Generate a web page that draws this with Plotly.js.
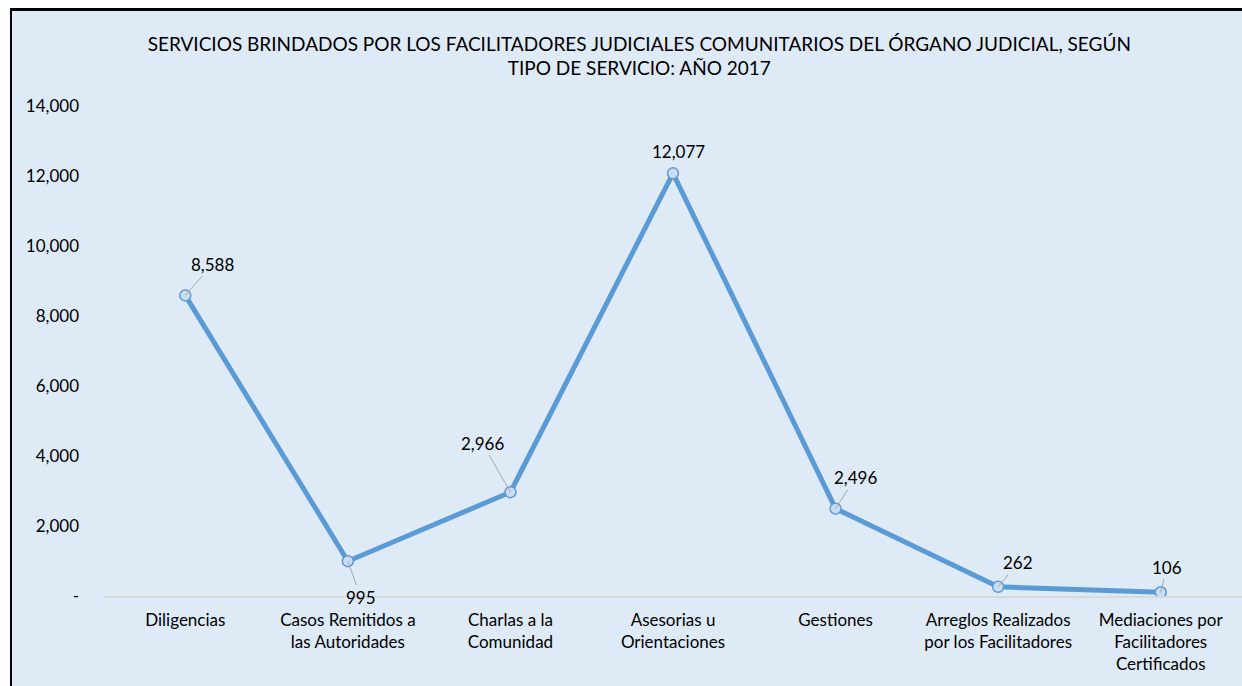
<!DOCTYPE html>
<html>
<head>
<meta charset="utf-8">
<script src="https://cdn.plot.ly/plotly-3.0.1.min.js"></script>
<style>
  html, body { margin: 0; padding: 0; background: #ffffff; width: 1242px; height: 686px; overflow: hidden; }
  #frame { position: absolute; left: 10px; top: 8px; width: 1240px; height: 690px; box-sizing: border-box;
           border-left: 2px solid #000; border-top: 3px solid #000; background: #DEEAF6; }
  #chart { position: absolute; left: 12px; top: 10px; width: 1230px; height: 676px; }
</style>
</head>
<body>
<div id="frame"></div>
<div id="chart"></div>
<script>
// ---- data ----
const categories = [
  "Diligencias",
  "Casos Remitidos a<br>las Autoridades",
  "Charlas a la<br>Comunidad",
  "Asesorias u<br>Orientaciones",
  "Gestiones",
  "Arreglos Realizados<br>por los Facilitadores",
  "Mediaciones por<br>Facilitadores<br>Certificados"
];
const values = [8588, 995, 2966, 12077, 2496, 262, 106];
const yTickValues = [0, 2000, 4000, 6000, 8000, 10000, 12000, 14000];
const yTickLabels = ["-", "2,000", "4,000", "6,000", "8,000", "10,000", "12,000", "14,000"];
const titleText = "SERVICIOS BRINDADOS POR LOS FACILITADORES JUDICIALES COMUNITARIOS DEL ÓRGANO JUDICIAL, SEGÚN<br>TIPO DE SERVICIO: AÑO 2017";

// label placement (pixel offsets from the point) — styling only
const labelOffsets = [[27,-31],[13,36],[-28,-49],[5,-22],[20,-31],[20,-24],[6,-25]];
const labelLeader  = [true, true, true, false, true, true, true];

const FONT = "Lato, 'Open Sans', sans-serif";

const fmt = v => v.toLocaleString("en-US");

const annotations = values.map((v, i) => {
  const [dx, dy] = labelOffsets[i];
  if (labelLeader[i]) {
    return {
      x: categories[i], y: v, xref: "x", yref: "y",
      text: fmt(v), showarrow: true, arrowhead: 0, arrowwidth: 1, arrowcolor: "#A6A6A6",
      ax: dx, ay: dy, axref: "pixel", ayref: "pixel", standoff: 0,
      font: { family: FONT, size: 17, color: "#000" }
    };
  }
  return {
    x: categories[i], y: v, xref: "x", yref: "y",
    text: fmt(v), showarrow: false, xshift: dx, yshift: -dy,
    font: { family: FONT, size: 17, color: "#000" }
  };
});

const trace = {
  type: "scatter", mode: "lines+markers",
  x: categories, y: values,
  line: { color: "#5B9BD5", width: 5 },
  marker: { symbol: "circle", size: 11, color: "#C9DCF2", line: { color: "#5B9BD5", width: 1.5 } },
  hoverinfo: "skip"
};

const layout = {
  width: 1230, height: 676,
  margin: { l: 92, r: 0, t: 96, b: 90 },
  paper_bgcolor: "rgba(0,0,0,0)",
  plot_bgcolor: "rgba(0,0,0,0)",
  showlegend: false,
  font: { family: FONT, size: 17, color: "#000" },
  title: {
    text: titleText, x: 0.51, xanchor: "center", xref: "container",
    y: 0.94, yanchor: "middle", yref: "container",
    font: { family: FONT, size: 19, color: "#000" }
  },
  xaxis: {
    type: "category", range: [-0.5, 6.5], autorange: false,
    showgrid: false, zeroline: false,
    showline: true, linecolor: "#D9D9D9", linewidth: 1.5,
    ticks: "", tickfont: { family: FONT, size: 17, color: "#000" },
    ticklabelstandoff: 8, fixedrange: true
  },
  yaxis: {
    range: [0, 14000], showgrid: false, zeroline: false, showline: false,
    tickvals: yTickValues, ticktext: yTickLabels, ticks: "",
    tickfont: { family: FONT, size: 17, color: "#000" },
    ticklabelstandoff: 24, fixedrange: true
  },
  annotations: annotations
};

Plotly.newPlot("chart", [trace], layout, { displayModeBar: false, staticPlot: true });
</script>
</body>
</html>
